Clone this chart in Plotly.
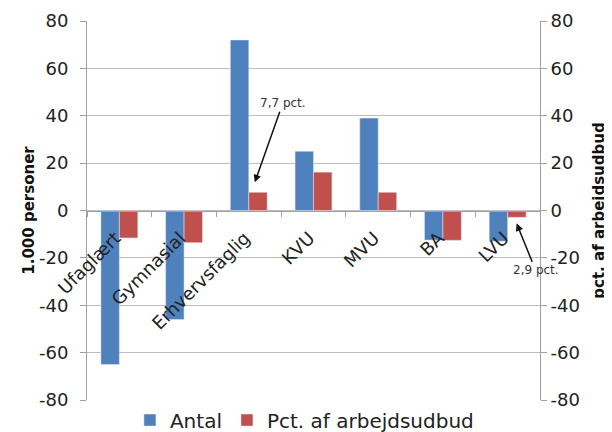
import plotly.graph_objects as go

categories = ["Ufaglært", "Gymnasial", "Erhvervsfaglig", "KVU", "MVU", "BA", "LVU"]
antal = [-65, -46, 72, 25, 39, -12.5, -13]
pct = [-11.6, -13.6, 7.7, 16.2, 7.7, -12.6, -2.9]
y_ticks = [-80, -60, -40, -20, 0, 20, 40, 60, 80]
y_ticktext = [str(v) for v in y_ticks]

BLUE = "#4F81BD"
RED = "#C0504D"
AXIS = "#a0a0a0"
GRID = "#bdbdbd"
FONT = "DejaVu Sans"

fig = go.Figure()
fig.add_trace(go.Bar(x=categories, y=antal, name="Antal", marker_color=BLUE,
                     offsetgroup="a", yaxis="y"))
fig.add_trace(go.Bar(x=categories, y=pct, name="Pct. af arbejdsudbud", marker_color=RED,
                     offsetgroup="b", yaxis="y2"))

axis_common = dict(range=[-80, 80], tickvals=y_ticks, ticktext=y_ticktext,
                   showline=True, linecolor=AXIS, linewidth=1,
                   ticks="outside", ticklen=6, tickcolor=AXIS,
                   tickfont=dict(family=FONT, size=18, color="#222"),
                   zeroline=False, automargin=False)

# the page body has an 8px margin, so the figure is 8px smaller than the window
fig.update_layout(
    width=604, height=424,
    margin=dict(l=79, r=72, t=13, b=32, autoexpand=False),
    paper_bgcolor="white", plot_bgcolor="white",
    barmode="group", bargap=0.43, bargroupgap=0,
    font=dict(family=FONT, color="#222"),
    xaxis=dict(type="category", range=[-0.5, 6.5], anchor="free", position=0.5,
               showline=True, linecolor=AXIS, linewidth=1, automargin=False,
               ticks="outside", tickson="boundaries", ticklen=5, tickcolor=AXIS,
               tickangle=-45, ticklabelshift=-4, ticklabelstandoff=9,
               tickfont=dict(family=FONT, size=18, color="#222"),
               showgrid=False, zeroline=False),
    yaxis=dict(**axis_common, ticklabelstandoff=8, showgrid=True, gridcolor=GRID, gridwidth=1,
               title=dict(text="<b>1.000 personer</b>", standoff=0,
                          font=dict(family=FONT, size=15, color="#111"))),
    yaxis2=dict(**axis_common, overlaying="y", side="right", anchor="x", showgrid=False,
                title=dict(text="<b>pct. af arbejdsudbud</b>", standoff=14,
                           font=dict(family=FONT, size=15, color="#111"))),
    legend=dict(orientation="h", x=0.48, xanchor="center", y=-0.053, yanchor="middle",
                font=dict(family=FONT, size=20, color="#222"), itemwidth=30),
    annotations=[
        dict(x="Erhvervsfaglig", y=pct[2], xref="x", yref="y2", xshift=6, yshift=10,
             text="7,7 pct.", showarrow=True, ax=28, ay=-79,
             arrowhead=2, arrowsize=1, arrowwidth=1.5, arrowcolor="#111",
             font=dict(family=FONT, size=12, color="#333")),
        dict(x="LVU", y=pct[6], xref="x", yref="y2", xshift=9, yshift=-6,
             text="2,9 pct.", showarrow=True, ax=19, ay=47,
             arrowhead=2, arrowsize=1, arrowwidth=1.5, arrowcolor="#111",
             font=dict(family=FONT, size=12, color="#333")),
    ],
)

fig.write_html("out.html")
